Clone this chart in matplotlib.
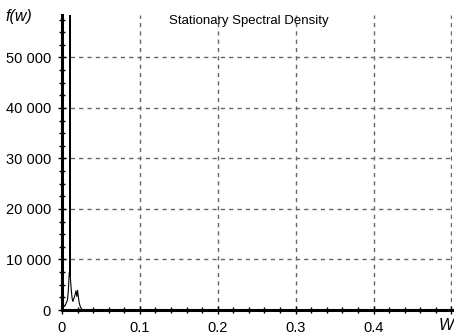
import matplotlib
matplotlib.use("Agg")
import matplotlib.pyplot as plt
from matplotlib.ticker import MultipleLocator, FuncFormatter

# Spectral density data (frequency w, density f(w))
w = [0.0, 0.0003, 0.0006, 0.001, 0.0015, 0.002, 0.003, 0.004, 0.005, 0.006,
     0.007, 0.008, 0.0090, 0.0095, 0.0099, 0.0103, 0.0107, 0.011, 0.012,
     0.013, 0.014, 0.015, 0.016, 0.017, 0.018, 0.019, 0.020, 0.021, 0.022,
     0.023, 0.024, 0.025, 0.026, 0.027, 0.028, 0.030, 0.035, 0.04, 0.06,
     0.1, 0.2, 0.3, 0.4, 0.5]
f = [900000, 300000, 90000, 20000, 4000, 900, 700, 900, 1200, 1600,
     2000, 3500, 6500, 7500, 6800, 600000, 6500, 5800, 3800,
     2300, 1700, 2200, 2600, 3200, 3800, 2700, 3900, 2600, 1500,
     900, 500, 250, 120, 60, 30, 15, 8, 5, 3,
     2, 1, 1, 1, 1]

xticks = [0, 0.1, 0.2, 0.3, 0.4]
xticklabels = ["0", "0.1", "0.2", "0.3", "0.4"]
yticks = [0, 10000, 20000, 30000, 40000, 50000]

plt.rcParams['font.family'] = ['Liberation Sans', 'DejaVu Sans']

fig = plt.figure(figsize=(4.54, 3.33), dpi=100)
ax = fig.add_axes([62/454, 23/333, 390/454, 295/333])

ax.plot(w, f, color='black', lw=0.8, clip_on=True)
ax.set_xlim(0, 0.5008)
ax.set_ylim(0, 58400)

ax.set_xticks(xticks + [0.5])
ax.set_xticklabels(xticklabels + [""])
ax.set_yticks(yticks)
ax.yaxis.set_major_formatter(FuncFormatter(lambda v, p: f"{int(v):,}".replace(",", " ")))
ax.xaxis.set_minor_locator(MultipleLocator(0.02))
ax.yaxis.set_minor_locator(MultipleLocator(2500))

for s in ['top', 'right']:
    ax.spines[s].set_visible(False)
ax.spines['left'].set_linewidth(2.2)
ax.spines['bottom'].set_linewidth(2.2)

ax.tick_params(axis='x', which='major', direction='inout', length=6, width=1,
               labelsize=10.5, pad=5, color='black')
ax.tick_params(axis='y', which='major', direction='inout', length=6, width=1,
               labelsize=10.5, pad=5, color='black')
ax.tick_params(axis='both', which='minor', direction='inout', length=4, width=1)

ax.grid(True, which='major', linestyle=(0, (3, 3)), color='#666666', lw=1)

ax.text(0.24, 57300, "Stationary Spectral Density", ha='center', va='center',
        fontsize=9.5)
fig.text(5/454, 1 - 16/333, "f(w)", fontsize=11.5, style='italic', ha='left', va='center')
fig.text(446/454, 1 - 326/333, "W", fontsize=11.5, style='italic', ha='center', va='center')

fig.savefig("out.png", dpi=100)
